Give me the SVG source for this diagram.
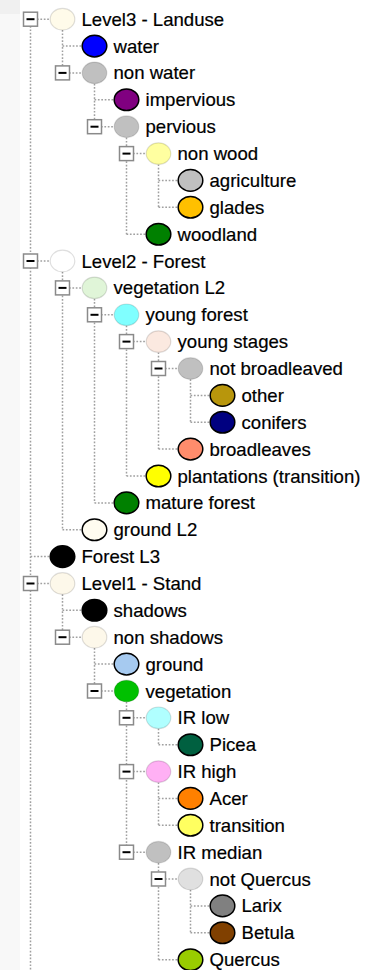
<svg xmlns="http://www.w3.org/2000/svg" width="368" height="970" viewBox="0 0 368 970">
<style>
.dot{stroke:#a0a0a0;stroke-width:1.5;stroke-dasharray:1.7 1.7;fill:none}
.bx{fill:#fff;stroke:#8a8a8a;stroke-width:1.5}
.mn{stroke:#000;stroke-width:2}
.lf{stroke:#000;stroke-width:1.5}
.br{stroke:#000;stroke-opacity:0.13;stroke-width:1.2}
text{font-family:"Liberation Sans",Arial,sans-serif;font-size:18.6px;fill:#000;stroke:#000;stroke-width:0.2}
</style>
<defs>
<g id="box"><rect class="bx" x="-7" y="-7" width="14" height="14"/><line class="mn" x1="-4" y1="0" x2="4" y2="0"/></g>
</defs>
<rect width="368" height="970" fill="#fff"/>
<rect width="20" height="970" fill="#f8f8f8"/>
<rect width="20" height="14" fill="#f0f0f0"/>
<g id="connectors">
<path class="dot" d="M30.5 19.2V970 M62.5 30V72.9 M94.5 83.7V126.7 M126.5 137.5V234.2 M158.5 164.4V207.3 M62.5 271.8V529.7 M94.5 298.7V502.9 M126.5 325.6V476 M158.5 352.4V449.1 M190.5 379.3V422.3 M62.5 594.3V637.2 M94.5 648V691 M126.5 701.8V852.2 M158.5 728.6V744.7 M158.5 782.4V825.3 M158.5 863V959.7 M190.5 889.8V932.8"/>
<path class="dot" d="M37 19.2H50.2 M62.5 46.1H82.2 M69 72.9H82.2 M94.5 99.8H114.2 M101 126.7H114.2 M133 153.6H146.2 M158.5 180.4H178.2 M158.5 207.3H178.2 M126.5 234.2H146.2 M37 261H50.2 M69 287.9H82.2 M101 314.8H114.2 M133 341.6H146.2 M165 368.5H178.2 M190.5 395.4H210.2 M190.5 422.3H210.2 M158.5 449.1H178.2 M126.5 476H146.2 M94.5 502.9H114.2 M62.5 529.7H82.2 M30.5 556.6H50.2 M37 583.5H50.2 M62.5 610.3H82.2 M69 637.2H82.2 M94.5 664.1H114.2 M101 691H114.2 M133 717.8H146.2 M158.5 744.7H178.2 M133 771.6H146.2 M158.5 798.4H178.2 M158.5 825.3H178.2 M133 852.2H146.2 M165 879H178.2 M190.5 905.9H210.2 M190.5 932.8H210.2 M158.5 959.7H178.2"/>
</g>
<g id="n0"><use href="#box" x="30.5" y="19.2"/><ellipse class="br" cx="62.5" cy="19.2" rx="12.3" ry="10.8" fill="#fffbea"/><text x="81.5" y="25.7">Level3 - Landuse</text></g>
<g id="n1"><ellipse class="lf" cx="94.5" cy="46.1" rx="12.3" ry="10.8" fill="#0000ff"/><text x="113.5" y="52.6">water</text></g>
<g id="n2"><use href="#box" x="62.5" y="72.9"/><ellipse class="br" cx="94.5" cy="72.9" rx="12.3" ry="10.8" fill="#c0c0c0"/><text x="113.5" y="79.4">non water</text></g>
<g id="n3"><ellipse class="lf" cx="126.5" cy="99.8" rx="12.3" ry="10.8" fill="#800080"/><text x="145.5" y="106.3">impervious</text></g>
<g id="n4"><use href="#box" x="94.5" y="126.7"/><ellipse class="br" cx="126.5" cy="126.7" rx="12.3" ry="10.8" fill="#c0c0c0"/><text x="145.5" y="133.2">pervious</text></g>
<g id="n5"><use href="#box" x="126.5" y="153.6"/><ellipse class="br" cx="158.5" cy="153.6" rx="12.3" ry="10.8" fill="#ffffa0"/><text x="177.5" y="160.1">non wood</text></g>
<g id="n6"><ellipse class="lf" cx="190.5" cy="180.4" rx="12.3" ry="10.8" fill="#c0c0c0"/><text x="209.5" y="186.9">agriculture</text></g>
<g id="n7"><ellipse class="lf" cx="190.5" cy="207.3" rx="12.3" ry="10.8" fill="#ffc000"/><text x="209.5" y="213.8">glades</text></g>
<g id="n8"><ellipse class="lf" cx="158.5" cy="234.2" rx="12.3" ry="10.8" fill="#008000"/><text x="177.5" y="240.7">woodland</text></g>
<g id="n9"><use href="#box" x="30.5" y="261"/><ellipse class="br" cx="62.5" cy="261" rx="12.3" ry="10.8" fill="#ffffff"/><text x="81.5" y="267.5">Level2 - Forest</text></g>
<g id="n10"><use href="#box" x="62.5" y="287.9"/><ellipse class="br" cx="94.5" cy="287.9" rx="12.3" ry="10.8" fill="#e0f5d8"/><text x="113.5" y="294.4">vegetation L2</text></g>
<g id="n11"><use href="#box" x="94.5" y="314.8"/><ellipse class="br" cx="126.5" cy="314.8" rx="12.3" ry="10.8" fill="#80ffff"/><text x="145.5" y="321.3">young forest</text></g>
<g id="n12"><use href="#box" x="126.5" y="341.6"/><ellipse class="br" cx="158.5" cy="341.6" rx="12.3" ry="10.8" fill="#fbe9e0"/><text x="177.5" y="348.1">young stages</text></g>
<g id="n13"><use href="#box" x="158.5" y="368.5"/><ellipse class="br" cx="190.5" cy="368.5" rx="12.3" ry="10.8" fill="#c0c0c0"/><text x="209.5" y="375">not broadleaved</text></g>
<g id="n14"><ellipse class="lf" cx="222.5" cy="395.4" rx="12.3" ry="10.8" fill="#b8960c"/><text x="241.5" y="401.9">other</text></g>
<g id="n15"><ellipse class="lf" cx="222.5" cy="422.3" rx="12.3" ry="10.8" fill="#000080"/><text x="241.5" y="428.8">conifers</text></g>
<g id="n16"><ellipse class="lf" cx="190.5" cy="449.1" rx="12.3" ry="10.8" fill="#ff8c6c"/><text x="209.5" y="455.6">broadleaves</text></g>
<g id="n17"><ellipse class="lf" cx="158.5" cy="476" rx="12.3" ry="10.8" fill="#ffff00"/><text x="177.5" y="482.5">plantations (transition)</text></g>
<g id="n18"><ellipse class="lf" cx="126.5" cy="502.9" rx="12.3" ry="10.8" fill="#008000"/><text x="145.5" y="509.4">mature forest</text></g>
<g id="n19"><ellipse class="lf" cx="94.5" cy="529.7" rx="12.3" ry="10.8" fill="#fffcf0"/><text x="113.5" y="536.2">ground L2</text></g>
<g id="n20"><ellipse class="lf" cx="62.5" cy="556.6" rx="12.3" ry="10.8" fill="#000000"/><text x="81.5" y="563.1">Forest L3</text></g>
<g id="n21"><use href="#box" x="30.5" y="583.5"/><ellipse class="br" cx="62.5" cy="583.5" rx="12.3" ry="10.8" fill="#fdf8ea"/><text x="81.5" y="590">Level1 - Stand</text></g>
<g id="n22"><ellipse class="lf" cx="94.5" cy="610.3" rx="12.3" ry="10.8" fill="#000000"/><text x="113.5" y="616.8">shadows</text></g>
<g id="n23"><use href="#box" x="62.5" y="637.2"/><ellipse class="br" cx="94.5" cy="637.2" rx="12.3" ry="10.8" fill="#fdf8ea"/><text x="113.5" y="643.7">non shadows</text></g>
<g id="n24"><ellipse class="lf" cx="126.5" cy="664.1" rx="12.3" ry="10.8" fill="#a6caf0"/><text x="145.5" y="670.6">ground</text></g>
<g id="n25"><use href="#box" x="94.5" y="691"/><ellipse class="br" cx="126.5" cy="691" rx="12.3" ry="10.8" fill="#00c000"/><text x="145.5" y="697.5">vegetation</text></g>
<g id="n26"><use href="#box" x="126.5" y="717.8"/><ellipse class="br" cx="158.5" cy="717.8" rx="12.3" ry="10.8" fill="#b0ffff"/><text x="177.5" y="724.3">IR low</text></g>
<g id="n27"><ellipse class="lf" cx="190.5" cy="744.7" rx="12.3" ry="10.8" fill="#006040"/><text x="209.5" y="751.2">Picea</text></g>
<g id="n28"><use href="#box" x="126.5" y="771.6"/><ellipse class="br" cx="158.5" cy="771.6" rx="12.3" ry="10.8" fill="#ffb0f4"/><text x="177.5" y="778.1">IR high</text></g>
<g id="n29"><ellipse class="lf" cx="190.5" cy="798.4" rx="12.3" ry="10.8" fill="#ff8000"/><text x="209.5" y="804.9">Acer</text></g>
<g id="n30"><ellipse class="lf" cx="190.5" cy="825.3" rx="12.3" ry="10.8" fill="#ffff60"/><text x="209.5" y="831.8">transition</text></g>
<g id="n31"><use href="#box" x="126.5" y="852.2"/><ellipse class="br" cx="158.5" cy="852.2" rx="12.3" ry="10.8" fill="#c0c0c0"/><text x="177.5" y="858.7">IR median</text></g>
<g id="n32"><use href="#box" x="158.5" y="879"/><ellipse class="br" cx="190.5" cy="879" rx="12.3" ry="10.8" fill="#e0e0e0"/><text x="209.5" y="885.5">not Quercus</text></g>
<g id="n33"><ellipse class="lf" cx="222.5" cy="905.9" rx="12.3" ry="10.8" fill="#808080"/><text x="241.5" y="912.4">Larix</text></g>
<g id="n34"><ellipse class="lf" cx="222.5" cy="932.8" rx="12.3" ry="10.8" fill="#804000"/><text x="241.5" y="939.3">Betula</text></g>
<g id="n35"><ellipse class="lf" cx="190.5" cy="959.7" rx="12.3" ry="10.8" fill="#99cc00"/><text x="209.5" y="966.2">Quercus</text></g>
</svg>
